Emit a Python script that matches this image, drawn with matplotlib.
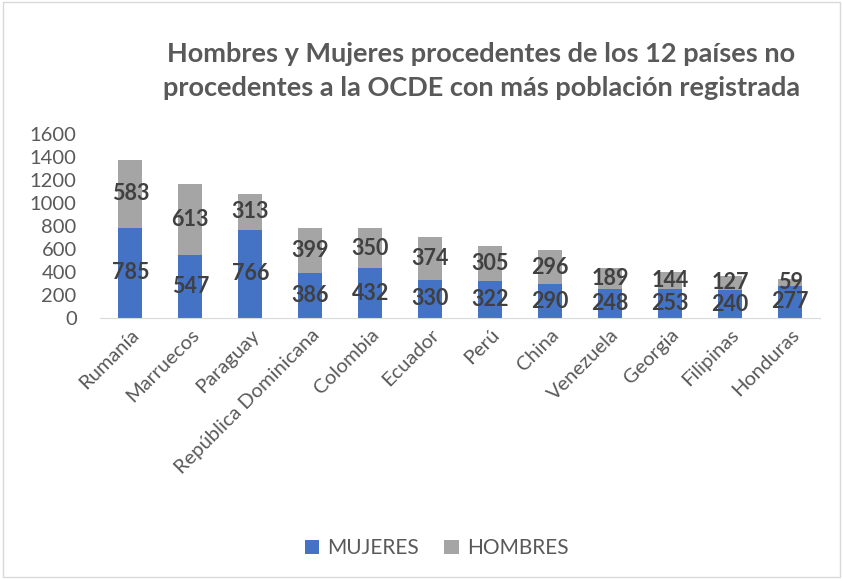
import numpy as np
import matplotlib.pyplot as plt

plt.rcParams['font.family'] = ['Lato', 'DejaVu Sans']

paises = ["Rumanía", "Marruecos", "Paraguay", "República Dominicana", "Colombia",
          "Ecuador", "Perú", "China", "Venezuela", "Georgia", "Filipinas", "Honduras"]
mujeres = [785, 547, 766, 386, 432, 330, 322, 290, 248, 253, 240, 277]
hombres = [583, 613, 313, 399, 350, 374, 305, 296, 189, 144, 127, 59]

fig = plt.figure(figsize=(8.43, 5.79), dpi=100)
ax = fig.add_axes([0.119, 0.451, 0.854, 0.318])

x = np.arange(len(paises))
b1 = ax.bar(x, mujeres, width=0.4, color='#4472C4', label='MUJERES')
b2 = ax.bar(x, hombres, width=0.4, bottom=mujeres, color='#A5A5A5', label='HOMBRES')

# etiquetas de datos en el centro de cada segmento
for bars, vals in [(b1, mujeres), (b2, hombres)]:
    for rect, v in zip(bars, vals):
        ax.text(rect.get_x() + rect.get_width() / 2, rect.get_y() + rect.get_height() / 2, str(v),
                ha='center', va='center', fontsize=15.5, fontweight='bold', color='#404040')

ax.set_xlim(-0.5, len(paises) - 0.5)
ax.set_ylim(0, 1600)
ax.set_yticks(np.arange(0, 1601, 200))
ax.set_xticks(x)
ax.set_xticklabels(paises, rotation=45, ha='right', rotation_mode='anchor')
ax.tick_params(axis='both', length=0, labelsize=14.5, colors='#595959')
ax.tick_params(axis='y', pad=17)
ax.tick_params(axis='x', pad=6)
for s in ['top', 'right', 'left']:
    ax.spines[s].set_visible(False)
ax.spines['bottom'].set_color('#D9D9D9')

fig.text(0.571, 0.878, "Hombres y Mujeres procedentes de los 12 países no\nprocedentes a la OCDE con más población registrada",
         ha='center', va='center', fontsize=19.5, fontweight='bold', color='#595959', linespacing=1.5)

fig.legend(loc='center', bbox_to_anchor=(0.518, 0.053), ncol=2, frameon=False,
           fontsize=15, labelcolor='#595959', handlelength=0.7, handleheight=0.7,
           columnspacing=1.2, handletextpad=0.4)

fig.patches.append(plt.Rectangle((0.004, 0.004), 0.992, 0.992, transform=fig.transFigure,
                                 fill=False, edgecolor='#D9D9D9', lw=1))

fig.savefig('out.png', dpi=100)
